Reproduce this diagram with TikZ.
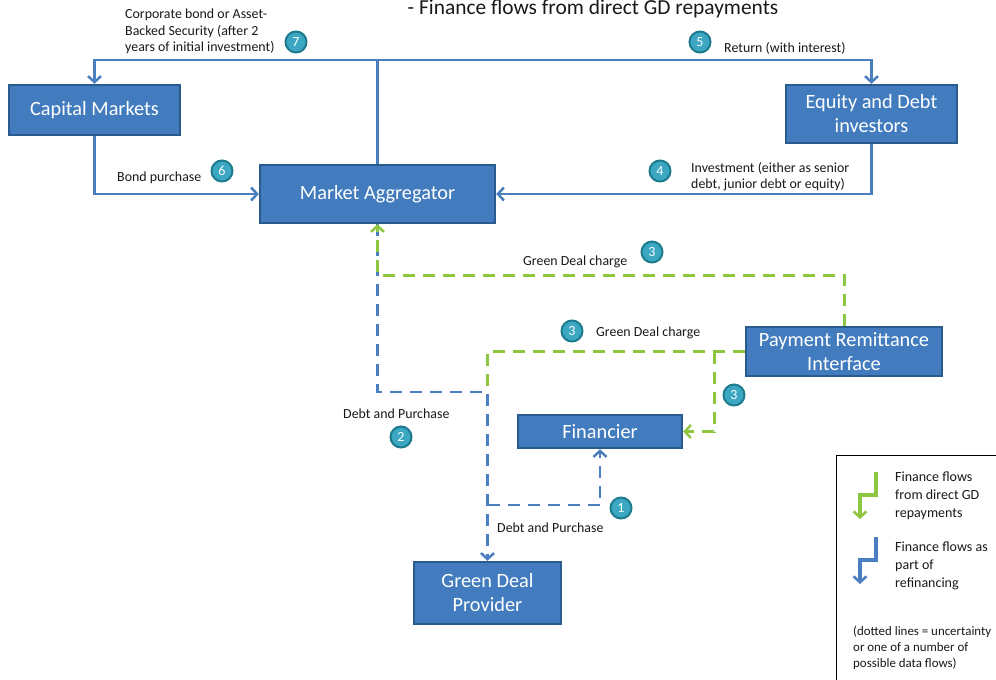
\documentclass[tikz,border=0pt]{standalone}
\usepackage{fontspec}
\setmainfont{Carlito}
\usetikzlibrary{arrows.meta}
\definecolor{boxfill}{HTML}{427CBE}
\definecolor{boxline}{HTML}{2B5B8E}
\definecolor{flowblue}{HTML}{4A7EBF}
\definecolor{flowgreen}{HTML}{8DC63F}
\definecolor{badgefill}{HTML}{3CA7C2}
\definecolor{badgeline}{HTML}{1E7B8E}
\tikzset{
  box/.style={rectangle, draw=boxline, fill=boxfill, line width=2.4pt, text=white,
    font=\fontsize{20.3}{24}\selectfont, align=center, inner sep=0pt},
  lbl/.style={anchor=west, inner sep=0pt, align=left, text=black!90,
    font=\fontsize{13.9}{16.5}\selectfont},
  leg/.style={anchor=west, inner sep=0pt, align=left, text=black!90,
    font=\fontsize{14}{18}\selectfont},
  badge/.style={circle, fill=badgefill, draw=badgeline, line width=2pt,
    minimum size=21pt, inner sep=0pt, text=white, font=\fontsize{14}{14}\selectfont},
  tip/.style={-{Straight Barb[length=6pt,width=13pt,line width=2.5pt]}},
  bflow/.style={draw=flowblue, line width=2.6pt},
  gflow/.style={draw=flowgreen, line width=3pt},
  dsh/.style={dash pattern=on 12pt off 8pt},
}
\begin{document}
\begin{tikzpicture}[x=1pt,y=-1pt]
\useasboundingbox[fill=white] (0,0) rectangle (996,680);

% title
\node[inner sep=0pt, font=\fontsize{21.4}{24}\selectfont, text=black!90] (title) at (593,8.5) {- Finance flows from direct GD repayments};

% boxes
\node[box, minimum width=171pt, minimum height=50pt] (cm) at (94.5,110) {Capital Markets};
\node[box, minimum width=235pt, minimum height=58pt] (ma) at (377.5,194) {Market Aggregator};
\node[box, minimum width=171pt, minimum height=58pt] (ed) at (871.5,114) {Equity and Debt\\investors};
\node[box, minimum width=196pt, minimum height=49pt] (pri) at (844,351.5) {Payment Remittance\\Interface};
\node[box, minimum width=164pt, minimum height=33pt] (fin) at (600,431.5) {Financier};
\node[box, minimum width=147pt, minimum height=62pt] (gdp) at (487.5,593) {Green Deal\\Provider};

% helper coordinates
\coordinate (top) at (0,60);
\coordinate (gy) at (0,275);
\coordinate (by) at (0,392);
\coordinate (g2) at (714,351.5);
\coordinate (b2) at (487.5,505);

% solid blue flows
\draw[bflow, tip] (ma.north) -- (ma.north |- top) -| (cm.north);
\draw[bflow, tip] (ma.north) -- (ma.north |- top) -| (ed.north);
\draw[bflow, tip] (cm.south) |- (ma.west);
\draw[bflow, tip] (ed.south) |- (ma.east);

% dashed blue flows
\draw[bflow, dsh, tip] (ma.south) -- (ma.south |- by) -| (gdp.north);
\draw[bflow, dsh, tip] (b2) -| (fin.south);

% dashed green flows
\draw[gflow, dsh, tip] (pri.north) |- (ma.south |- gy) -- (ma.south);
\draw[gflow, dsh] (pri.west) -| (gdp.north |- by);
\draw[gflow, dsh, tip] (g2) |- (fin.east);

% labels
\node[lbl] (l7) at (125,31.5) {Corporate bond or Asset-\\Backed Security (after 2\\years of initial investment)};
\node[lbl] (l5) at (724,48) {Return (with interest)};
\node[lbl] (l6) at (117,178) {Bond purchase};
\node[lbl] (l4) at (691,176.5) {Investment (either as senior\\debt, junior debt or equity)};
\node[lbl] (l3a) at (523,262) {Green Deal charge};
\node[lbl] (l3b) at (596,333) {Green Deal charge};
\node[lbl] (l2) at (343,414) {Debt and Purchase};
\node[lbl] (l1) at (497,528) {Debt and Purchase};

% badges
\node[badge] (n7) at (296,42) {7};
\node[badge] (n5) at (700,42) {5};
\node[badge] (n6) at (222,171) {6};
\node[badge] (n4) at (660,171) {4};
\node[badge] (n3a) at (652,252) {3};
\node[badge] (n3b) at (572,331) {3};
\node[badge] (n3c) at (734,395) {3};
\node[badge] (n2) at (401,437) {2};
\node[badge] (n1) at (621,508) {1};

% legend
\draw[black, line width=1pt] (836,455) rectangle (1005,690);
\coordinate (lg1) at (876,472);
\coordinate (lg2) at (860,495);
\coordinate (lg3) at (860,519);
\draw[gflow, line width=3.2pt, tip] (lg1) |- (lg2) -- (lg3);
\coordinate (lb1) at (876,537);
\coordinate (lb2) at (860,560);
\coordinate (lb3) at (860,584);
\draw[bflow, line width=3.2pt, tip] (lb1) |- (lb2) -- (lb3);
\node[leg] (tg) at (895,496) {Finance flows\\from direct GD\\repayments};
\node[leg] (tb) at (895,566) {Finance flows as\\part of\\refinancing};
\node[leg, font=\fontsize{12.9}{16}\selectfont] (td) at (853,648) {(dotted lines = uncertainty\\or one of a number of\\possible data flows)};
\end{tikzpicture}
\end{document}
